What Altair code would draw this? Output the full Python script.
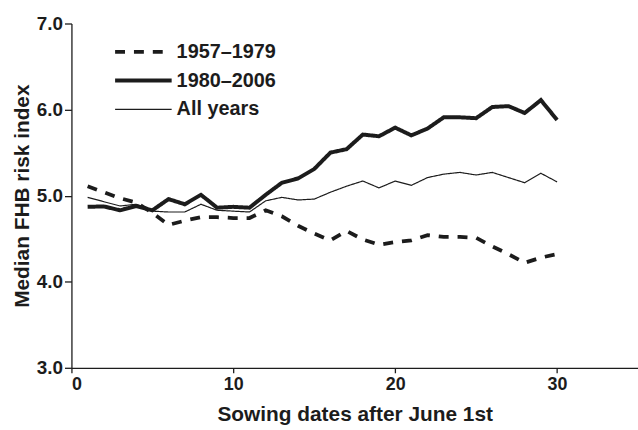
import altair as alt
import pandas as pd

days = list(range(1, 31))
s1957 = [5.11, 5.04, 4.97, 4.92, 4.80, 4.66, 4.71, 4.75, 4.75, 4.74,
         4.74, 4.83, 4.76, 4.65, 4.56, 4.48, 4.59, 4.49, 4.43, 4.46,
         4.48, 4.54, 4.52, 4.52, 4.51, 4.41, 4.32, 4.22, 4.28, 4.32]
s1980 = [4.87, 4.875, 4.83, 4.88, 4.83, 4.96, 4.90, 5.01, 4.86, 4.87,
         4.86, 5.01, 5.15, 5.20, 5.31, 5.50, 5.54, 5.71, 5.69, 5.79,
         5.70, 5.78, 5.91, 5.91, 5.90, 6.03, 6.04, 5.96, 6.11, 5.88]
sall = [4.98, 4.93, 4.88, 4.90, 4.82, 4.81, 4.81, 4.90, 4.83, 4.82,
        4.81, 4.94, 4.98, 4.95, 4.96, 5.04, 5.11, 5.17, 5.09, 5.17,
        5.12, 5.21, 5.25, 5.27, 5.24, 5.27, 5.21, 5.15, 5.26, 5.16]
series_names = ["1957\u20131979", "1980\u20132006", "All years"]

rows = []
for name, vals in zip(series_names, [s1957, s1980, sall]):
    for d, v in zip(days, vals):
        rows.append({"day": d, "value": v, "series": name})
df = pd.DataFrame(rows)

FONT = "Liberation Sans"
INK = "#1c1c1c"

legend_kw = dict(title=None, orient="none", legendX=42, legendY=14,
                 symbolType="stroke", symbolSize=3249, symbolStrokeColor=INK,
                 labelFontSize=20, labelFont=FONT, labelColor=INK, labelFontWeight="bold",
                 labelOffset=3, rowPadding=0, clipHeight=29)

chart = alt.Chart(df).mark_line(color=INK, strokeCap="butt").encode(
    x=alt.X("day:Q", scale=alt.Scale(domain=[0, 35], nice=False),
            axis=alt.Axis(values=[0, 10, 20, 30], title="Sowing dates after June 1st",
                          grid=False, tickSize=5, labelPadding=3, titlePadding=10,
                          labelFontSize=18)),
    y=alt.Y("value:Q", scale=alt.Scale(domain=[3, 7], nice=False, zero=False),
            axis=alt.Axis(values=[3, 4, 5, 6, 7], format=".1f", title="Median FHB risk index",
                          grid=False, tickSize=7, labelPadding=2, titlePadding=4,
                          labelFontSize=19)),
    strokeDash=alt.StrokeDash("series:N",
        scale=alt.Scale(domain=series_names, range=[[10, 9], [1, 0], [1, 0]]),
        legend=alt.Legend(**legend_kw)),
    strokeWidth=alt.StrokeWidth("series:N",
        scale=alt.Scale(type="ordinal", domain=series_names, range=[3.8, 4.0, 1.2]),
        legend=alt.Legend(**legend_kw)),
).properties(
    width=571, height=347,
    background="white",
    autosize=alt.AutoSizeParams(type="none"),
    padding={"left": 72, "top": 22, "right": 0, "bottom": 61},
).configure_view(stroke=None).configure_axis(
    labelFont=FONT, titleFont=FONT, titleFontSize=21,
    labelColor=INK, titleColor=INK, domainColor=INK, tickColor=INK,
    labelFontWeight="bold", titleFontWeight="bold", domainWidth=1.3, tickWidth=1.3,
)

chart.save("out.html", embed_options={"renderer": "svg", "actions": False})
